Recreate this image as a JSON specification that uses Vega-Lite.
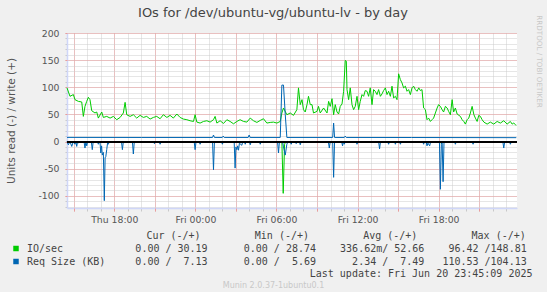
{
  "$schema": "https://vega.github.io/schema/vega-lite/v6.json",
  "width": 450,
  "height": 175,
  "autosize": {"type": "none"},
  "padding": {"left": 67, "top": 33, "right": 30, "bottom": 84},
  "background": "#f0f0f0",
  "config": {"view": {"fill": "#ffffff", "stroke": null}, "font": "DejaVu Sans"},
  "title": {"text": "IOs for /dev/ubuntu-vg/ubuntu-lv - by day", "font": "DejaVu Sans", "fontSize": 13, "fontWeight": "normal", "color": "#444444", "anchor": "middle", "frame": "group", "dx": -19, "offset": 0, "dy": 5},
  "data": {"values": [
    {"h":14.5,"s":"IO/sec","p":"w","v":98.9},{"h":14.72,"s":"IO/sec","p":"w","v":83.3},{"h":14.97,"s":"IO/sec","p":"w","v":86.5},{"h":15.09,"s":"IO/sec","p":"w","v":77.2},{"h":15.34,"s":"IO/sec","p":"w","v":74},{"h":15.59,"s":"IO/sec","p":"w","v":72.9},{"h":15.71,"s":"IO/sec","p":"w","v":46.3},{"h":15.83,"s":"IO/sec","p":"w","v":64.8},{"h":15.96,"s":"IO/sec","p":"w","v":74},{"h":16.08,"s":"IO/sec","p":"w","v":81.5},{"h":16.2,"s":"IO/sec","p":"w","v":77.2},{"h":16.33,"s":"IO/sec","p":"w","v":56.8},{"h":16.57,"s":"IO/sec","p":"w","v":52.6},{"h":16.7,"s":"IO/sec","p":"w","v":54.4},{"h":16.82,"s":"IO/sec","p":"w","v":43.2},{"h":17.07,"s":"IO/sec","p":"w","v":54.4},{"h":17.19,"s":"IO/sec","p":"w","v":44.4},{"h":17.44,"s":"IO/sec","p":"w","v":46.3},{"h":17.69,"s":"IO/sec","p":"w","v":43.2},{"h":17.93,"s":"IO/sec","p":"w","v":46.3},{"h":18.18,"s":"IO/sec","p":"w","v":40.2},{"h":18.43,"s":"IO/sec","p":"w","v":44.4},{"h":18.67,"s":"IO/sec","p":"w","v":52.6},{"h":18.8,"s":"IO/sec","p":"w","v":72.2},{"h":18.92,"s":"IO/sec","p":"w","v":49.4},{"h":19.17,"s":"IO/sec","p":"w","v":46.3},{"h":19.41,"s":"IO/sec","p":"w","v":49.4},{"h":19.66,"s":"IO/sec","p":"w","v":43.2},{"h":19.91,"s":"IO/sec","p":"w","v":48.2},{"h":20.15,"s":"IO/sec","p":"w","v":44.4},{"h":20.4,"s":"IO/sec","p":"w","v":46.3},{"h":20.65,"s":"IO/sec","p":"w","v":41.4},{"h":20.89,"s":"IO/sec","p":"w","v":44.4},{"h":21.14,"s":"IO/sec","p":"w","v":46.3},{"h":21.39,"s":"IO/sec","p":"w","v":42},{"h":21.63,"s":"IO/sec","p":"w","v":49.4},{"h":21.89,"s":"IO/sec","p":"w","v":44.4},{"h":22.13,"s":"IO/sec","p":"w","v":48.2},{"h":22.37,"s":"IO/sec","p":"w","v":43.2},{"h":22.63,"s":"IO/sec","p":"w","v":50.7},{"h":22.87,"s":"IO/sec","p":"w","v":44.4},{"h":23.11,"s":"IO/sec","p":"w","v":41.4},{"h":23.37,"s":"IO/sec","p":"w","v":40.2},{"h":23.61,"s":"IO/sec","p":"w","v":38.3},{"h":23.86,"s":"IO/sec","p":"w","v":37},{"h":23.98,"s":"IO/sec","p":"w","v":49.4},{"h":24.11,"s":"IO/sec","p":"w","v":35.8},{"h":24.35,"s":"IO/sec","p":"w","v":34},{"h":24.6,"s":"IO/sec","p":"w","v":37},{"h":24.85,"s":"IO/sec","p":"w","v":38.3},{"h":25.09,"s":"IO/sec","p":"w","v":35.8},{"h":25.34,"s":"IO/sec","p":"w","v":40.2},{"h":25.46,"s":"IO/sec","p":"w","v":46.3},{"h":25.59,"s":"IO/sec","p":"w","v":34},{"h":25.83,"s":"IO/sec","p":"w","v":38.3},{"h":26.08,"s":"IO/sec","p":"w","v":33.3},{"h":26.33,"s":"IO/sec","p":"w","v":40.2},{"h":26.57,"s":"IO/sec","p":"w","v":37},{"h":26.82,"s":"IO/sec","p":"w","v":32.7},{"h":27.07,"s":"IO/sec","p":"w","v":37},{"h":27.31,"s":"IO/sec","p":"w","v":40.2},{"h":27.56,"s":"IO/sec","p":"w","v":37},{"h":27.81,"s":"IO/sec","p":"w","v":35.8},{"h":28.06,"s":"IO/sec","p":"w","v":43.2},{"h":28.3,"s":"IO/sec","p":"w","v":38.3},{"h":28.55,"s":"IO/sec","p":"w","v":35.2},{"h":28.8,"s":"IO/sec","p":"w","v":38.9},{"h":29.04,"s":"IO/sec","p":"w","v":42},{"h":29.29,"s":"IO/sec","p":"w","v":34},{"h":29.54,"s":"IO/sec","p":"w","v":35.2},{"h":29.78,"s":"IO/sec","p":"w","v":35.8},{"h":30.03,"s":"IO/sec","p":"w","v":34},{"h":30.28,"s":"IO/sec","p":"w","v":37},{"h":30.4,"s":"IO/sec","p":"w","v":52.6},{"h":30.52,"s":"IO/sec","p":"w","v":61.8},{"h":30.77,"s":"IO/sec","p":"w","v":49.4},{"h":31.02,"s":"IO/sec","p":"w","v":52.6},{"h":31.26,"s":"IO/sec","p":"w","v":48.2},{"h":31.51,"s":"IO/sec","p":"w","v":58.7},{"h":31.63,"s":"IO/sec","p":"w","v":98.9},{"h":31.76,"s":"IO/sec","p":"w","v":68},{"h":31.89,"s":"IO/sec","p":"w","v":77.2},{"h":32,"s":"IO/sec","p":"w","v":58.7},{"h":32.13,"s":"IO/sec","p":"w","v":54.4},{"h":32.26,"s":"IO/sec","p":"w","v":68},{"h":32.37,"s":"IO/sec","p":"w","v":83.3},{"h":32.5,"s":"IO/sec","p":"w","v":68},{"h":32.63,"s":"IO/sec","p":"w","v":68},{"h":32.74,"s":"IO/sec","p":"w","v":52.6},{"h":33,"s":"IO/sec","p":"w","v":55.6},{"h":33.11,"s":"IO/sec","p":"w","v":64.8},{"h":33.24,"s":"IO/sec","p":"w","v":52.6},{"h":33.49,"s":"IO/sec","p":"w","v":61.8},{"h":33.74,"s":"IO/sec","p":"w","v":52.6},{"h":33.86,"s":"IO/sec","p":"w","v":74},{"h":33.98,"s":"IO/sec","p":"w","v":64.8},{"h":34.11,"s":"IO/sec","p":"w","v":79},{"h":34.23,"s":"IO/sec","p":"w","v":49.4},{"h":34.35,"s":"IO/sec","p":"w","v":68},{"h":34.48,"s":"IO/sec","p":"w","v":54.4},{"h":34.6,"s":"IO/sec","p":"w","v":50.7},{"h":34.72,"s":"IO/sec","p":"w","v":64.8},{"h":34.85,"s":"IO/sec","p":"w","v":69.2},{"h":34.97,"s":"IO/sec","p":"w","v":92.6},{"h":35.09,"s":"IO/sec","p":"w","v":149.4},{"h":35.17,"s":"IO/sec","p":"w","v":148},{"h":35.22,"s":"IO/sec","p":"w","v":95.7},{"h":35.34,"s":"IO/sec","p":"w","v":77.2},{"h":35.46,"s":"IO/sec","p":"w","v":98.9},{"h":35.59,"s":"IO/sec","p":"w","v":68},{"h":35.71,"s":"IO/sec","p":"w","v":58.7},{"h":35.83,"s":"IO/sec","p":"w","v":64.8},{"h":35.96,"s":"IO/sec","p":"w","v":83.3},{"h":36.08,"s":"IO/sec","p":"w","v":58.7},{"h":36.2,"s":"IO/sec","p":"w","v":74},{"h":36.33,"s":"IO/sec","p":"w","v":86.5},{"h":36.45,"s":"IO/sec","p":"w","v":83.3},{"h":36.57,"s":"IO/sec","p":"w","v":93.9},{"h":36.7,"s":"IO/sec","p":"w","v":92.6},{"h":36.82,"s":"IO/sec","p":"w","v":83.3},{"h":36.94,"s":"IO/sec","p":"w","v":98.9},{"h":37.07,"s":"IO/sec","p":"w","v":68},{"h":37.19,"s":"IO/sec","p":"w","v":95.7},{"h":37.31,"s":"IO/sec","p":"w","v":92.6},{"h":37.44,"s":"IO/sec","p":"w","v":86.5},{"h":37.56,"s":"IO/sec","p":"w","v":95.7},{"h":37.69,"s":"IO/sec","p":"w","v":83.3},{"h":37.81,"s":"IO/sec","p":"w","v":87.7},{"h":37.93,"s":"IO/sec","p":"w","v":93.9},{"h":38.06,"s":"IO/sec","p":"w","v":98.9},{"h":38.18,"s":"IO/sec","p":"w","v":86.5},{"h":38.3,"s":"IO/sec","p":"w","v":92.6},{"h":38.43,"s":"IO/sec","p":"w","v":83.3},{"h":38.55,"s":"IO/sec","p":"w","v":102},{"h":38.67,"s":"IO/sec","p":"w","v":80.3},{"h":38.8,"s":"IO/sec","p":"w","v":83.3},{"h":38.92,"s":"IO/sec","p":"w","v":77.2},{"h":39.04,"s":"IO/sec","p":"w","v":124.8},{"h":39.17,"s":"IO/sec","p":"w","v":114},{"h":39.29,"s":"IO/sec","p":"w","v":108},{"h":39.41,"s":"IO/sec","p":"w","v":98.9},{"h":39.54,"s":"IO/sec","p":"w","v":102},{"h":39.66,"s":"IO/sec","p":"w","v":92.6},{"h":39.78,"s":"IO/sec","p":"w","v":95.7},{"h":39.91,"s":"IO/sec","p":"w","v":86.5},{"h":40.03,"s":"IO/sec","p":"w","v":98.9},{"h":40.15,"s":"IO/sec","p":"w","v":102},{"h":40.28,"s":"IO/sec","p":"w","v":95.7},{"h":40.4,"s":"IO/sec","p":"w","v":92.6},{"h":40.53,"s":"IO/sec","p":"w","v":98.9},{"h":40.65,"s":"IO/sec","p":"w","v":93.9},{"h":40.77,"s":"IO/sec","p":"w","v":95.7},{"h":40.89,"s":"IO/sec","p":"w","v":61.8},{"h":41.02,"s":"IO/sec","p":"w","v":58.7},{"h":41.14,"s":"IO/sec","p":"w","v":40.2},{"h":41.26,"s":"IO/sec","p":"w","v":43.2},{"h":41.39,"s":"IO/sec","p":"w","v":37},{"h":41.51,"s":"IO/sec","p":"w","v":40.2},{"h":41.63,"s":"IO/sec","p":"w","v":43.2},{"h":41.76,"s":"IO/sec","p":"w","v":52.6},{"h":41.89,"s":"IO/sec","p":"w","v":61.8},{"h":42,"s":"IO/sec","p":"w","v":68},{"h":42.13,"s":"IO/sec","p":"w","v":64.8},{"h":42.26,"s":"IO/sec","p":"w","v":58.7},{"h":42.37,"s":"IO/sec","p":"w","v":54.4},{"h":42.5,"s":"IO/sec","p":"w","v":64.8},{"h":42.63,"s":"IO/sec","p":"w","v":61.8},{"h":42.74,"s":"IO/sec","p":"w","v":55.6},{"h":42.87,"s":"IO/sec","p":"w","v":49.4},{"h":43,"s":"IO/sec","p":"w","v":77.2},{"h":43.11,"s":"IO/sec","p":"w","v":54.4},{"h":43.24,"s":"IO/sec","p":"w","v":61.8},{"h":43.37,"s":"IO/sec","p":"w","v":50.7},{"h":43.61,"s":"IO/sec","p":"w","v":46.3},{"h":43.74,"s":"IO/sec","p":"w","v":40.2},{"h":43.86,"s":"IO/sec","p":"w","v":37},{"h":43.98,"s":"IO/sec","p":"w","v":32.1},{"h":44.11,"s":"IO/sec","p":"w","v":40.2},{"h":44.23,"s":"IO/sec","p":"w","v":43.2},{"h":44.35,"s":"IO/sec","p":"w","v":52.6},{"h":44.48,"s":"IO/sec","p":"w","v":64.8},{"h":44.61,"s":"IO/sec","p":"w","v":49.4},{"h":44.72,"s":"IO/sec","p":"w","v":43.2},{"h":44.85,"s":"IO/sec","p":"w","v":37},{"h":44.97,"s":"IO/sec","p":"w","v":48.2},{"h":45.09,"s":"IO/sec","p":"w","v":46.3},{"h":45.22,"s":"IO/sec","p":"w","v":40.2},{"h":45.35,"s":"IO/sec","p":"w","v":35.8},{"h":45.59,"s":"IO/sec","p":"w","v":32.1},{"h":45.83,"s":"IO/sec","p":"w","v":35.8},{"h":46.08,"s":"IO/sec","p":"w","v":32.1},{"h":46.33,"s":"IO/sec","p":"w","v":37},{"h":46.57,"s":"IO/sec","p":"w","v":34},{"h":46.82,"s":"IO/sec","p":"w","v":38.3},{"h":47.07,"s":"IO/sec","p":"w","v":32.1},{"h":47.31,"s":"IO/sec","p":"w","v":37},{"h":47.44,"s":"IO/sec","p":"w","v":32.1},{"h":47.56,"s":"IO/sec","p":"w","v":34},{"h":47.69,"s":"IO/sec","p":"w","v":30.9},{"h":47.75,"s":"IO/sec","p":"w","v":30.2},
    {"h":14.5,"s":"IO/sec","p":"r","v":0},{"h":15.9,"s":"IO/sec","p":"r","v":0},{"h":15.96,"s":"IO/sec","p":"r","v":-2},{"h":16.03,"s":"IO/sec","p":"r","v":0},{"h":17.19,"s":"IO/sec","p":"r","v":0},{"h":17.26,"s":"IO/sec","p":"r","v":-2},{"h":17.32,"s":"IO/sec","p":"r","v":0},{"h":30.4,"s":"IO/sec","p":"r","v":0},{"h":30.5,"s":"IO/sec","p":"r","v":-95.5},{"h":30.6,"s":"IO/sec","p":"r","v":-5},{"h":30.7,"s":"IO/sec","p":"r","v":0},{"h":42.06,"s":"IO/sec","p":"r","v":0},{"h":42.13,"s":"IO/sec","p":"r","v":-3},{"h":42.2,"s":"IO/sec","p":"r","v":0},{"h":47.75,"s":"IO/sec","p":"r","v":0},
    {"h":14.5,"s":"Req Size (KB)","p":"w","v":7.6},{"h":20,"s":"Req Size (KB)","p":"w","v":7.5},{"h":25.27,"s":"Req Size (KB)","p":"w","v":7.5},{"h":25.34,"s":"Req Size (KB)","p":"w","v":12},{"h":25.41,"s":"Req Size (KB)","p":"w","v":7.5},{"h":25.99,"s":"Req Size (KB)","p":"w","v":7.5},{"h":26.06,"s":"Req Size (KB)","p":"w","v":10},{"h":26.13,"s":"Req Size (KB)","p":"w","v":7.5},{"h":27.91,"s":"Req Size (KB)","p":"w","v":7.5},{"h":27.98,"s":"Req Size (KB)","p":"w","v":12},{"h":28.05,"s":"Req Size (KB)","p":"w","v":7.5},{"h":30.28,"s":"Req Size (KB)","p":"w","v":7.5},{"h":30.4,"s":"Req Size (KB)","p":"w","v":104},{"h":30.52,"s":"Req Size (KB)","p":"w","v":104},{"h":30.65,"s":"Req Size (KB)","p":"w","v":50},{"h":30.77,"s":"Req Size (KB)","p":"w","v":7.5},{"h":34.16,"s":"Req Size (KB)","p":"w","v":7.5},{"h":34.23,"s":"Req Size (KB)","p":"w","v":34},{"h":34.3,"s":"Req Size (KB)","p":"w","v":7.5},{"h":35.02,"s":"Req Size (KB)","p":"w","v":7.5},{"h":35.09,"s":"Req Size (KB)","p":"w","v":10},{"h":35.16,"s":"Req Size (KB)","p":"w","v":7.5},{"h":40,"s":"Req Size (KB)","p":"w","v":7.4},{"h":47.75,"s":"Req Size (KB)","p":"w","v":7.13},
    {"h":14.5,"s":"Req Size (KB)","p":"r","v":0},{"h":14.6,"s":"Req Size (KB)","p":"r","v":-6},{"h":14.72,"s":"Req Size (KB)","p":"r","v":0},{"h":14.85,"s":"Req Size (KB)","p":"r","v":-9},{"h":14.97,"s":"Req Size (KB)","p":"r","v":0},{"h":15.09,"s":"Req Size (KB)","p":"r","v":-5},{"h":15.16,"s":"Req Size (KB)","p":"r","v":0},{"h":15.22,"s":"Req Size (KB)","p":"r","v":-9},{"h":15.28,"s":"Req Size (KB)","p":"r","v":0},{"h":15.34,"s":"Req Size (KB)","p":"r","v":-3},{"h":15.42,"s":"Req Size (KB)","p":"r","v":0},{"h":15.76,"s":"Req Size (KB)","p":"r","v":0},{"h":15.83,"s":"Req Size (KB)","p":"r","v":-12},{"h":15.9,"s":"Req Size (KB)","p":"r","v":0},{"h":15.96,"s":"Req Size (KB)","p":"r","v":-8},{"h":16.03,"s":"Req Size (KB)","p":"r","v":0},{"h":16.3,"s":"Req Size (KB)","p":"r","v":0},{"h":16.37,"s":"Req Size (KB)","p":"r","v":-15},{"h":16.44,"s":"Req Size (KB)","p":"r","v":0},{"h":16.75,"s":"Req Size (KB)","p":"r","v":0},{"h":16.82,"s":"Req Size (KB)","p":"r","v":-5},{"h":16.9,"s":"Req Size (KB)","p":"r","v":0},{"h":16.94,"s":"Req Size (KB)","p":"r","v":0},{"h":17,"s":"Req Size (KB)","p":"r","v":-21},{"h":17.06,"s":"Req Size (KB)","p":"r","v":-8},{"h":17.11,"s":"Req Size (KB)","p":"r","v":-25},{"h":17.19,"s":"Req Size (KB)","p":"r","v":-20},{"h":17.26,"s":"Req Size (KB)","p":"r","v":-109},{"h":17.32,"s":"Req Size (KB)","p":"r","v":-30},{"h":17.37,"s":"Req Size (KB)","p":"r","v":-28},{"h":17.44,"s":"Req Size (KB)","p":"r","v":-15},{"h":17.5,"s":"Req Size (KB)","p":"r","v":-3},{"h":17.56,"s":"Req Size (KB)","p":"r","v":-5},{"h":17.63,"s":"Req Size (KB)","p":"r","v":0},{"h":18.53,"s":"Req Size (KB)","p":"r","v":0},{"h":18.6,"s":"Req Size (KB)","p":"r","v":-15},{"h":18.67,"s":"Req Size (KB)","p":"r","v":0},{"h":19.34,"s":"Req Size (KB)","p":"r","v":0},{"h":19.41,"s":"Req Size (KB)","p":"r","v":-23},{"h":19.48,"s":"Req Size (KB)","p":"r","v":0},{"h":20.9,"s":"Req Size (KB)","p":"r","v":0},{"h":20.97,"s":"Req Size (KB)","p":"r","v":-4},{"h":21.04,"s":"Req Size (KB)","p":"r","v":0},{"h":21.32,"s":"Req Size (KB)","p":"r","v":0},{"h":21.39,"s":"Req Size (KB)","p":"r","v":-5},{"h":21.46,"s":"Req Size (KB)","p":"r","v":0},{"h":23.91,"s":"Req Size (KB)","p":"r","v":0},{"h":23.98,"s":"Req Size (KB)","p":"r","v":-15},{"h":24.05,"s":"Req Size (KB)","p":"r","v":0},{"h":24.28,"s":"Req Size (KB)","p":"r","v":0},{"h":24.35,"s":"Req Size (KB)","p":"r","v":-5},{"h":24.42,"s":"Req Size (KB)","p":"r","v":0},{"h":25.27,"s":"Req Size (KB)","p":"r","v":0},{"h":25.34,"s":"Req Size (KB)","p":"r","v":-52},{"h":25.41,"s":"Req Size (KB)","p":"r","v":0},{"h":25.93,"s":"Req Size (KB)","p":"r","v":0},{"h":26,"s":"Req Size (KB)","p":"r","v":-5},{"h":26.07,"s":"Req Size (KB)","p":"r","v":0},{"h":26.87,"s":"Req Size (KB)","p":"r","v":0},{"h":26.94,"s":"Req Size (KB)","p":"r","v":-49},{"h":27,"s":"Req Size (KB)","p":"r","v":-10},{"h":27.07,"s":"Req Size (KB)","p":"r","v":-15},{"h":27.13,"s":"Req Size (KB)","p":"r","v":-8},{"h":27.19,"s":"Req Size (KB)","p":"r","v":-16},{"h":27.26,"s":"Req Size (KB)","p":"r","v":-3},{"h":27.44,"s":"Req Size (KB)","p":"r","v":-7},{"h":27.5,"s":"Req Size (KB)","p":"r","v":0},{"h":27.62,"s":"Req Size (KB)","p":"r","v":0},{"h":27.69,"s":"Req Size (KB)","p":"r","v":-5},{"h":27.76,"s":"Req Size (KB)","p":"r","v":0},{"h":27.99,"s":"Req Size (KB)","p":"r","v":0},{"h":28.06,"s":"Req Size (KB)","p":"r","v":-6},{"h":28.13,"s":"Req Size (KB)","p":"r","v":0},{"h":28.73,"s":"Req Size (KB)","p":"r","v":0},{"h":28.8,"s":"Req Size (KB)","p":"r","v":-5},{"h":28.87,"s":"Req Size (KB)","p":"r","v":0},{"h":30.08,"s":"Req Size (KB)","p":"r","v":0},{"h":30.15,"s":"Req Size (KB)","p":"r","v":-21},{"h":30.22,"s":"Req Size (KB)","p":"r","v":0},{"h":30.45,"s":"Req Size (KB)","p":"r","v":0},{"h":30.52,"s":"Req Size (KB)","p":"r","v":-10},{"h":30.65,"s":"Req Size (KB)","p":"r","v":-25},{"h":30.77,"s":"Req Size (KB)","p":"r","v":-5},{"h":30.85,"s":"Req Size (KB)","p":"r","v":0},{"h":31.02,"s":"Req Size (KB)","p":"r","v":0},{"h":31.09,"s":"Req Size (KB)","p":"r","v":-5},{"h":31.16,"s":"Req Size (KB)","p":"r","v":0},{"h":31.4,"s":"Req Size (KB)","p":"r","v":0},{"h":31.46,"s":"Req Size (KB)","p":"r","v":-4},{"h":31.53,"s":"Req Size (KB)","p":"r","v":0},{"h":31.7,"s":"Req Size (KB)","p":"r","v":0},{"h":31.76,"s":"Req Size (KB)","p":"r","v":-6},{"h":31.83,"s":"Req Size (KB)","p":"r","v":0},{"h":33.84,"s":"Req Size (KB)","p":"r","v":0},{"h":33.91,"s":"Req Size (KB)","p":"r","v":-12},{"h":33.98,"s":"Req Size (KB)","p":"r","v":0},{"h":34.16,"s":"Req Size (KB)","p":"r","v":0},{"h":34.23,"s":"Req Size (KB)","p":"r","v":-66},{"h":34.3,"s":"Req Size (KB)","p":"r","v":0},{"h":34.82,"s":"Req Size (KB)","p":"r","v":0},{"h":34.89,"s":"Req Size (KB)","p":"r","v":-8},{"h":34.95,"s":"Req Size (KB)","p":"r","v":0},{"h":35.02,"s":"Req Size (KB)","p":"r","v":-5},{"h":35.09,"s":"Req Size (KB)","p":"r","v":0},{"h":35.89,"s":"Req Size (KB)","p":"r","v":0},{"h":35.96,"s":"Req Size (KB)","p":"r","v":-5},{"h":36.03,"s":"Req Size (KB)","p":"r","v":0},{"h":37.56,"s":"Req Size (KB)","p":"r","v":0},{"h":37.63,"s":"Req Size (KB)","p":"r","v":-13.5},{"h":37.7,"s":"Req Size (KB)","p":"r","v":0},{"h":38.23,"s":"Req Size (KB)","p":"r","v":0},{"h":38.3,"s":"Req Size (KB)","p":"r","v":-5},{"h":38.37,"s":"Req Size (KB)","p":"r","v":0},{"h":38.73,"s":"Req Size (KB)","p":"r","v":0},{"h":38.8,"s":"Req Size (KB)","p":"r","v":-5},{"h":38.87,"s":"Req Size (KB)","p":"r","v":0},{"h":39.1,"s":"Req Size (KB)","p":"r","v":0},{"h":39.17,"s":"Req Size (KB)","p":"r","v":-5},{"h":39.24,"s":"Req Size (KB)","p":"r","v":0},{"h":40.82,"s":"Req Size (KB)","p":"r","v":0},{"h":40.89,"s":"Req Size (KB)","p":"r","v":-5},{"h":40.96,"s":"Req Size (KB)","p":"r","v":0},{"h":41.07,"s":"Req Size (KB)","p":"r","v":0},{"h":41.14,"s":"Req Size (KB)","p":"r","v":-8},{"h":41.21,"s":"Req Size (KB)","p":"r","v":-3},{"h":41.34,"s":"Req Size (KB)","p":"r","v":-8},{"h":41.41,"s":"Req Size (KB)","p":"r","v":0},{"h":42.06,"s":"Req Size (KB)","p":"r","v":0},{"h":42.13,"s":"Req Size (KB)","p":"r","v":-88},{"h":42.2,"s":"Req Size (KB)","p":"r","v":-5},{"h":42.26,"s":"Req Size (KB)","p":"r","v":0},{"h":42.33,"s":"Req Size (KB)","p":"r","v":-74},{"h":42.4,"s":"Req Size (KB)","p":"r","v":0},{"h":43.17,"s":"Req Size (KB)","p":"r","v":0},{"h":43.24,"s":"Req Size (KB)","p":"r","v":-5},{"h":43.31,"s":"Req Size (KB)","p":"r","v":0},{"h":44.48,"s":"Req Size (KB)","p":"r","v":0},{"h":44.55,"s":"Req Size (KB)","p":"r","v":-5},{"h":44.62,"s":"Req Size (KB)","p":"r","v":0},{"h":46.75,"s":"Req Size (KB)","p":"r","v":0},{"h":46.82,"s":"Req Size (KB)","p":"r","v":-12},{"h":46.89,"s":"Req Size (KB)","p":"r","v":0},{"h":47.24,"s":"Req Size (KB)","p":"r","v":0},{"h":47.31,"s":"Req Size (KB)","p":"r","v":-5},{"h":47.38,"s":"Req Size (KB)","p":"r","v":0},{"h":47.75,"s":"Req Size (KB)","p":"r","v":0}
  ]},
  "layer": [
    {
      "transform": [{"filter": "datum.s == 'IO/sec'"}],
      "mark": {"type": "line", "strokeWidth": 1, "interpolate": "linear"},
      "encoding": {
        "x": {"field": "h", "type": "quantitative", "scale": {"domain": [14.5, 47.8], "nice": false, "zero": false},
          "axis": {"orient": "bottom", "values": [15,16,17,18,19,20,21,22,23,24,25,26,27,28,29,30,31,32,33,34,35,36,37,38,39,40,41,42,43,44,45,46,47],
            "labelExpr": "datum.value % 6 == 0 ? (datum.value < 24 ? 'Thu ' : 'Fri ') + (datum.value % 24 < 10 ? '0' : '') + (datum.value % 24) + ':00' : ''",
            "labelFont": "DejaVu Sans", "labelFontSize": 9.3, "labelColor": "#555555", "labelPadding": 8.5, "labelBaseline": "middle", "labelOverlap": false, "labelFlush": false,
            "ticks": true, "tickSize": 3, "tickColor": "#c8c8c8", "tickWidth": 1,
            "domain": true, "domainColor": "#cfd6f8", "domainWidth": 1.5,
            "grid": true, "gridColor": "#cccccc", "gridDash": [1, 1], "gridWidth": 1,
            "title": "Last update: Fri Jun 20 23:45:09 2025", "titleFont": "DejaVu Sans Mono", "titleFontSize": 10, "titleFontWeight": "normal", "titleColor": "#444444",
            "titleX": 465, "titleY": 65.5, "titleAlign": "right", "titleBaseline": "middle", "titleAngle": 0}},
        "y": {"field": "v", "type": "quantitative", "scale": {"domain": [-122.5, 200], "nice": false, "zero": false},
          "axis": {"orient": "left", "values": [-120,-110,-100,-90,-80,-70,-60,-50,-40,-30,-20,-10,0,10,20,30,40,50,60,70,80,90,100,110,120,130,140,150,160,170,180,190,200],
            "labelExpr": "datum.value % 50 == 0 ? '' + datum.value : ''",
            "labelFont": "DejaVu Sans", "labelFontSize": 9.3, "labelColor": "#555555", "labelPadding": 6, "labelOverlap": false, "labelFlush": false,
            "ticks": true, "tickSize": 2, "tickColor": "#c8c8c8",
            "domain": true, "domainColor": "#cfd6f8", "domainWidth": 1.5,
            "grid": true, "gridColor": "#cccccc", "gridDash": [1, 1], "gridWidth": 1,
            "title": "Units read (-) / write (+)", "titleFont": "DejaVu Sans", "titleFontSize": 10.5, "titleFontWeight": "normal", "titleColor": "#555555",
            "titleX": -56, "titleAngle": -90, "titleAlign": "center", "titleBaseline": "middle"}},
        "color": {"field": "s", "type": "nominal", "scale": {"domain": ["IO/sec", "Req Size (KB)"], "range": ["#00cc00", "#0066b3"]},
          "legend": {"orient": "none", "legendX": -53, "legendY": 197.5, "direction": "vertical", "padding": 0,
            "title": "\u200b\u00a0\u00a0\u00a0\u00a0\u00a0\u00a0\u00a0\u00a0\u00a0\u00a0\u00a0\u00a0\u00a0\u00a0\u00a0\u00a0\u00a0\u00a0\u00a0\u00a0\u00a0\u00a0Cur\u00a0(-/+)\u00a0\u00a0\u00a0\u00a0\u00a0\u00a0\u00a0\u00a0\u00a0Min\u00a0(-/+)\u00a0\u00a0\u00a0\u00a0\u00a0\u00a0\u00a0\u00a0\u00a0Avg\u00a0(-/+)\u00a0\u00a0\u00a0\u00a0\u00a0\u00a0\u00a0\u00a0\u00a0Max\u00a0(-/+)",
            "titleFont": "DejaVu Sans Mono", "titleFontSize": 10, "titleFontWeight": "normal", "titleColor": "#444444", "titlePadding": 3, "titleLimit": 1000,
            "labelFont": "DejaVu Sans Mono", "labelFontSize": 10, "labelColor": "#444444", "labelLimit": 1000, "labelOffset": 6,
            "symbolType": "square", "symbolSize": 30, "symbolStrokeWidth": 0, "symbolOffset": -3, "rowPadding": 3,
            "labelExpr": "datum.value == 'IO/sec' ? 'IO/sec\u00a0\u00a0\u00a0\u00a0\u00a0\u00a0\u00a0\u00a0\u00a0\u00a0\u00a0\u00a00.00\u00a0/\u00a030.19\u00a0\u00a0\u00a0\u00a0\u00a0\u00a00.00\u00a0/\u00a028.74\u00a0\u00a0\u00a0\u00a0336.62m/\u00a052.66\u00a0\u00a0\u00a0\u00a096.42\u00a0/148.81' : 'Req\u00a0Size\u00a0(KB)\u00a0\u00a0\u00a0\u00a0\u00a00.00\u00a0/\u00a0\u00a07.13\u00a0\u00a0\u00a0\u00a0\u00a0\u00a00.00\u00a0/\u00a0\u00a05.69\u00a0\u00a0\u00a0\u00a0\u00a0\u00a02.34\u00a0/\u00a0\u00a07.49\u00a0\u00a0\u00a0110.53\u00a0/104.13'",
            "encode": {"symbols": {"update": {"fill": {"scale": "color", "field": "value"}, "fillOpacity": {"value": 1}, "strokeWidth": {"value": 0}}}}}},
        "detail": {"field": "p"}
      }
    },
    {
      "transform": [{"filter": "datum.s == 'Req Size (KB)'"}],
      "mark": {"type": "line", "strokeWidth": 1, "interpolate": "linear"},
      "encoding": {
        "x": {"field": "h", "type": "quantitative",
          "axis": {"orient": "bottom", "values": [15,18,21,24,27,30,33,36,39,42,45], "labels": false,
            "ticks": true, "tickSize": 3, "tickColor": "#ec9b9b", "domain": false,
            "grid": true, "gridColor": "#ec9b9b", "gridDash": [1, 1], "gridWidth": 1,
            "title": "Munin 2.0.37-1ubuntu0.1", "titleFont": "DejaVu Sans", "titleFontSize": 8, "titleFontWeight": "normal", "titleColor": "#c8c8c8",
            "titleX": 206, "titleY": 77.5, "titleAlign": "center", "titleBaseline": "middle", "titleAngle": 0}},
        "y": {"field": "v", "type": "quantitative",
          "axis": {"orient": "left", "values": [-100,-50,0,50,100,150,200], "labels": false,
            "ticks": true, "tickSize": 2, "tickColor": "#ec9b9b", "domain": false,
            "grid": true, "gridColor": "#ec9b9b", "gridDash": [1, 1], "gridWidth": 1, "title": null}},
        "color": {"field": "s", "type": "nominal", "scale": {"domain": ["IO/sec", "Req Size (KB)"], "range": ["#00cc00", "#0066b3"]},
          "legend": {"orient": "none", "legendX": -53, "legendY": 197.5, "direction": "vertical", "padding": 0,
            "title": "\u200b\u00a0\u00a0\u00a0\u00a0\u00a0\u00a0\u00a0\u00a0\u00a0\u00a0\u00a0\u00a0\u00a0\u00a0\u00a0\u00a0\u00a0\u00a0\u00a0\u00a0\u00a0\u00a0Cur\u00a0(-/+)\u00a0\u00a0\u00a0\u00a0\u00a0\u00a0\u00a0\u00a0\u00a0Min\u00a0(-/+)\u00a0\u00a0\u00a0\u00a0\u00a0\u00a0\u00a0\u00a0\u00a0Avg\u00a0(-/+)\u00a0\u00a0\u00a0\u00a0\u00a0\u00a0\u00a0\u00a0\u00a0Max\u00a0(-/+)",
            "titleFont": "DejaVu Sans Mono", "titleFontSize": 10, "titleFontWeight": "normal", "titleColor": "#444444", "titlePadding": 3, "titleLimit": 1000,
            "labelFont": "DejaVu Sans Mono", "labelFontSize": 10, "labelColor": "#444444", "labelLimit": 1000, "labelOffset": 6,
            "symbolType": "square", "symbolSize": 30, "symbolStrokeWidth": 0, "symbolOffset": -3, "rowPadding": 3,
            "labelExpr": "datum.value == 'IO/sec' ? 'IO/sec\u00a0\u00a0\u00a0\u00a0\u00a0\u00a0\u00a0\u00a0\u00a0\u00a0\u00a0\u00a00.00\u00a0/\u00a030.19\u00a0\u00a0\u00a0\u00a0\u00a0\u00a00.00\u00a0/\u00a028.74\u00a0\u00a0\u00a0\u00a0336.62m/\u00a052.66\u00a0\u00a0\u00a0\u00a096.42\u00a0/148.81' : 'Req\u00a0Size\u00a0(KB)\u00a0\u00a0\u00a0\u00a0\u00a00.00\u00a0/\u00a0\u00a07.13\u00a0\u00a0\u00a0\u00a0\u00a0\u00a00.00\u00a0/\u00a0\u00a05.69\u00a0\u00a0\u00a0\u00a0\u00a0\u00a02.34\u00a0/\u00a0\u00a07.49\u00a0\u00a0\u00a0110.53\u00a0/104.13'",
            "encode": {"symbols": {"update": {"fill": {"scale": "color", "field": "value"}, "fillOpacity": {"value": 1}, "strokeWidth": {"value": 0}}}}}},
        "detail": {"field": "p"}
      }
    },
    {
      "mark": {"type": "rule", "color": "#000000", "strokeWidth": 1},
      "encoding": {
        "y": {"datum": 0, "type": "quantitative",
          "axis": {"orient": "right", "values": [], "labels": false, "ticks": false, "domain": false, "grid": false,
            "title": "RRDTOOL / TOBI OETIKER", "titleFont": "DejaVu Sans", "titleFontSize": 7.2, "titleFontWeight": "normal", "titleColor": "#c8c8c8",
            "titleX": 21, "titleY": 28, "titleAngle": 90, "titleAlign": "center", "titleBaseline": "middle"}}
      }
    }
  ],
  "resolve": {"axis": {"x": "independent", "y": "independent"}}
}
